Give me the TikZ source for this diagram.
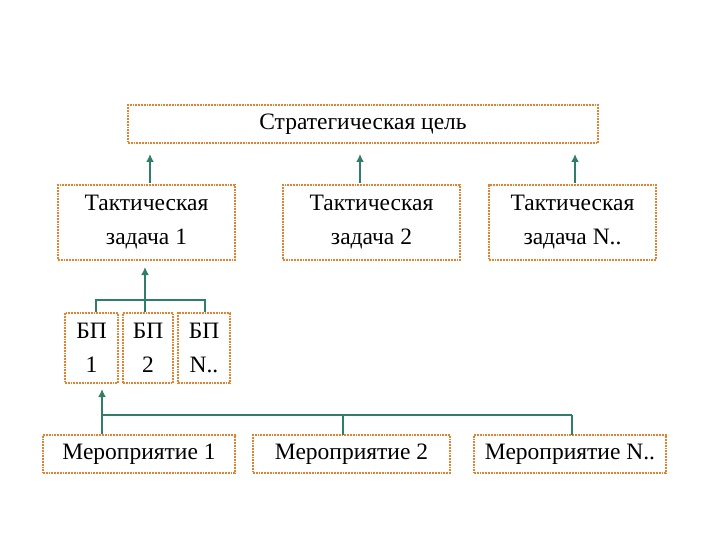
\documentclass[tikz,border=0pt]{standalone}
\usepackage{fontspec}
\setmainfont{Liberation Serif}
\usetikzlibrary{arrows.meta}
\definecolor{bord}{RGB}{228,130,50}
\definecolor{conn}{RGB}{50,125,105}
\begin{document}
\begin{tikzpicture}[x=1pt,y=-1pt,
  box/.style={draw=bord,densely dotted,line width=1.8pt,fill=white,align=center,font=\fontsize{23.5}{34}\selectfont,inner sep=0pt},
  link/.style={draw=conn,line width=2pt},
  arr/.style={link,-{Latex[length=8pt,width=8pt]}}]
\useasboundingbox (0,0) rectangle (720,540);
\node[box,minimum width=470,minimum height=38] (s) at (363,124) {Стратегическая цель};
\node[box,minimum width=177,minimum height=75] (t1) at (146.5,222.5) {Тактическая\\задача 1};
\node[box,minimum width=177,minimum height=75] (t2) at (371.5,222.5) {Тактическая\\задача 2};
\node[box,minimum width=167,minimum height=75] (t3) at (572.5,222.5) {Тактическая\\задача N..};
\node[box,minimum width=53,minimum height=70] (b1) at (91.5,348) {БП\\1};
\node[box,minimum width=50,minimum height=70] (b2) at (148,348) {БП\\2};
\node[box,minimum width=52,minimum height=70] (b3) at (204,348) {БП\\N..};
\node[box,minimum width=192,minimum height=38] (m1) at (139,454) {Мероприятие 1};
\node[box,minimum width=197,minimum height=38] (m2) at (351.5,454) {Мероприятие 2};
\node[box,minimum width=192,minimum height=38] (m3) at (570,454) {Мероприятие N..};
\coordinate (a1) at (150,183); \coordinate (a2) at (360,183); \coordinate (a3) at (575,183);
\draw[arr] (a1) -- (150,154);
\draw[arr] (a2) -- (360,154);
\draw[arr] (a3) -- (575,154);
\coordinate (h) at (145,300);
\draw[arr] (h) -- (145,267);
\draw[link] (b1.north -| 96,0) |- (h) -| (b3.north -| 205,0);
\draw[link] (h) -- (h |- b2.north);
\coordinate (g) at (102,415);
\draw[arr] (g) -- (102,389);
\draw[link] (g) -- (572,415);
\draw[link] (g) -- (g |- m1.north);
\draw[link] (343,415) -- (343,435);
\draw[link] (572,415) -- (572,435);
\end{tikzpicture}
\end{document}
